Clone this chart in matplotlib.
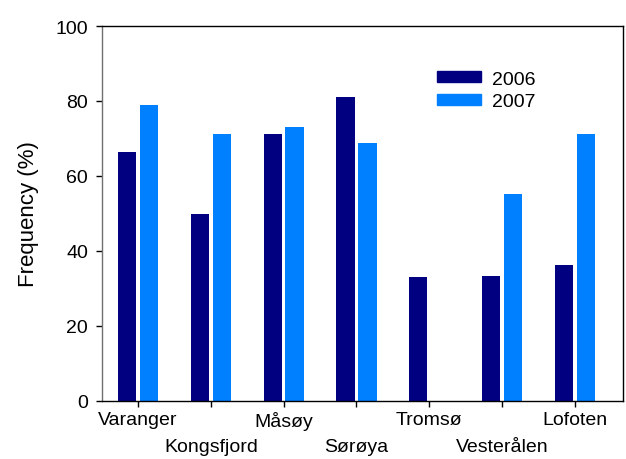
import numpy as np
import matplotlib
matplotlib.use("Agg")
import matplotlib.pyplot as plt
from matplotlib.patches import Patch

plt.rcParams['font.family'] = ['Liberation Sans', 'DejaVu Sans']

sites = ["Varanger", "Kongsfjord", "Måsøy", "Sørøya", "Tromsø", "Vesterålen", "Lofoten"]
freq_2006 = [66.5, 50.0, 71.3, 81.2, 33.2, 33.3, 36.4]
freq_2007 = [79.0, 71.3, 73.1, 68.7, 0.0, 55.3, 71.3]
years = ["2006", "2007"]
colors = ["#000080", "#0080ff"]

fig = plt.figure(figsize=(6.26, 4.60), dpi=100)
ax = fig.add_axes([102/626, 1-402/460, 521/626, 375/460])

x = np.arange(len(sites))
w = 0.25
ax.bar(x - 0.15, freq_2006, w, color=colors[0])
ax.bar(x + 0.15, freq_2007, w, color=colors[1])

ax.set_xlim(-0.495, 6.66)
ax.set_ylim(0, 100)
ax.set_yticks([0, 20, 40, 60, 80, 100])
ax.set_xticks(x)
ax.set_xticklabels(sites)
ax.tick_params(axis='both', direction='out', length=4, width=1, labelsize=14, colors='black')
ax.tick_params(axis='y', pad=6)
ax.tick_params(axis='x', pad=3.5)
# alternate labels go on a second row
for i, t in enumerate(ax.xaxis.get_major_ticks()):
    if i % 2 == 1:
        t.set_pad(3.5 + 19.5)

for s in ax.spines.values():
    s.set_linewidth(1)
ax.spines['left'].set_color('#707070')

ax.set_ylabel("Frequency (%)", fontsize=16, labelpad=12)

handles = [Patch(color=colors[0], label=years[0]), Patch(color=colors[1], label=years[1])]
ax.legend(handles=handles, loc='upper left', bbox_to_anchor=(419/626, 1-54/460),
          bbox_transform=fig.transFigure, frameon=False, fontsize=14,
          handlelength=2.3, handleheight=0.55, labelspacing=0.3, handletextpad=0.55)

fig.savefig("out.png", dpi=100)
